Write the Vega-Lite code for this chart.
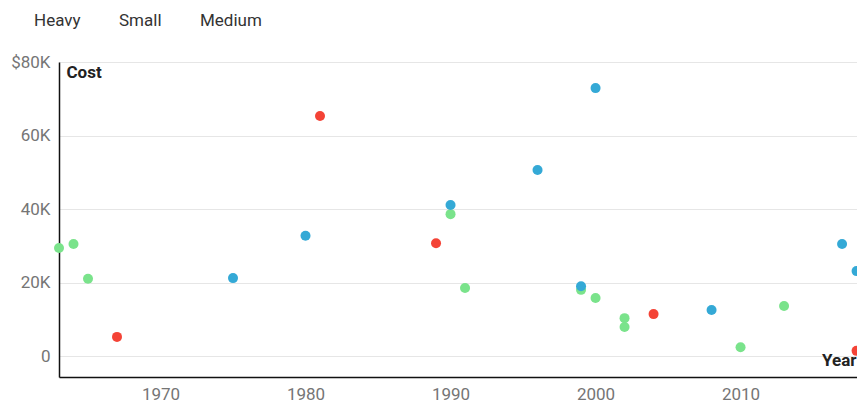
{
  "$schema": "https://vega.github.io/schema/vega-lite/v6.json",
  "autosize": {"type": "none"},
  "width": 798,
  "height": 315,
  "padding": {"left": 59, "top": 62, "right": 0, "bottom": 27},
  "background": "white",
  "config": {
    "font": "Roboto",
    "view": {"stroke": null}
  },
  "data": {
    "values": [
      {"Year": 1963, "Cost": 29400, "Type": "Small"},
      {"Year": 1964, "Cost": 30500, "Type": "Small"},
      {"Year": 1965, "Cost": 21000, "Type": "Small"},
      {"Year": 1990, "Cost": 38600, "Type": "Small"},
      {"Year": 1991, "Cost": 18500, "Type": "Small"},
      {"Year": 1999, "Cost": 18000, "Type": "Small"},
      {"Year": 2000, "Cost": 15800, "Type": "Small"},
      {"Year": 2002, "Cost": 10300, "Type": "Small"},
      {"Year": 2002, "Cost": 7900, "Type": "Small"},
      {"Year": 2010, "Cost": 2400, "Type": "Small"},
      {"Year": 2013, "Cost": 13600, "Type": "Small"},
      {"Year": 1967, "Cost": 5200, "Type": "Heavy"},
      {"Year": 1981, "Cost": 65300, "Type": "Heavy"},
      {"Year": 1989, "Cost": 30700, "Type": "Heavy"},
      {"Year": 2004, "Cost": 11400, "Type": "Heavy"},
      {"Year": 2018, "Cost": 1400, "Type": "Heavy"},
      {"Year": 1975, "Cost": 21200, "Type": "Medium"},
      {"Year": 1980, "Cost": 32700, "Type": "Medium"},
      {"Year": 1990, "Cost": 41100, "Type": "Medium"},
      {"Year": 1996, "Cost": 50600, "Type": "Medium"},
      {"Year": 1999, "Cost": 19000, "Type": "Medium"},
      {"Year": 2000, "Cost": 72900, "Type": "Medium"},
      {"Year": 2008, "Cost": 12500, "Type": "Medium"},
      {"Year": 2017, "Cost": 30500, "Type": "Medium"},
      {"Year": 2018, "Cost": 23100, "Type": "Medium"}
    ]
  },
  "mark": {"type": "circle", "size": 100, "opacity": 1, "clip": false},
  "encoding": {
    "x": {
      "field": "Year",
      "type": "quantitative",
      "scale": {"domain": [1963, 2018.03], "nice": false, "zero": false},
      "axis": {
        "values": [1970, 1980, 1990, 2000, 2010],
        "format": "d",
        "grid": false,
        "ticks": false,
        "domainColor": "#111111",
        "domainWidth": 1.5,
        "labelColor": "#757575",
        "labelFontSize": 17,
        "labelPadding": 9,
        "title": "Year",
        "titleFontSize": 17,
        "titleFontWeight": "bold",
        "titleColor": "#222222",
        "titleAlign": "right",
        "titleBaseline": "middle",
        "titleX": 797,
        "titleY": -17
      }
    },
    "y": {
      "field": "Cost",
      "type": "quantitative",
      "scale": {"domain": [-5714, 80000], "nice": false, "zero": false},
      "axis": {
        "values": [0, 20000, 40000, 60000, 80000],
        "labelExpr": "datum.value == 80000 ? '$80K' : datum.value == 0 ? '0' : (datum.value / 1000) + 'K'",
        "grid": true,
        "gridColor": "#e6e6e6",
        "gridWidth": 1,
        "ticks": false,
        "domainColor": "#111111",
        "domainWidth": 1.5,
        "labelColor": "#757575",
        "labelFontSize": 17,
        "labelPadding": 9,
        "title": "Cost",
        "titleAngle": 0,
        "titleFontSize": 17,
        "titleFontWeight": "bold",
        "titleColor": "#222222",
        "titleAlign": "left",
        "titleBaseline": "middle",
        "titleX": 7,
        "titleY": 10
      }
    },
    "color": {
      "field": "Type",
      "type": "nominal",
      "scale": {
        "domain": ["Heavy", "Small", "Medium"],
        "range": ["#f44336", "#7ae38b", "#34a9d6"]
      },
      "legend": {
        "orient": "none",
        "direction": "horizontal",
        "legendX": -42,
        "legendY": -50,
        "title": null,
        "symbolSize": 0,
        "symbolOpacity": 0,
        "symbolStrokeWidth": 0,
        "labelOffset": 0,
        "labelFontSize": 17,
        "labelColor": "#333333",
        "columnPadding": 21
      }
    }
  }
}
